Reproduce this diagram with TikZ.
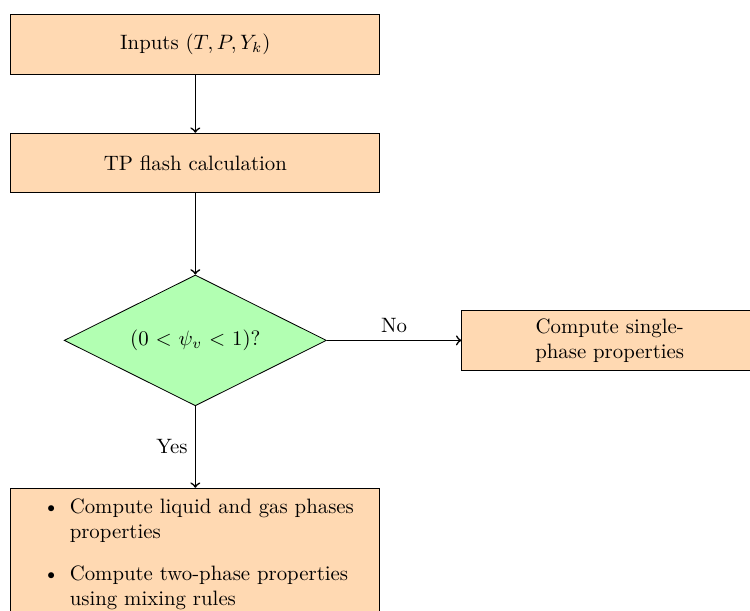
\documentclass[tikz,border=0pt]{standalone}
\usepackage{tikz}
\usepackage{amsmath}
\usepackage{enumitem}
\usetikzlibrary{shapes.geometric}

\begin{document}
\begin{tikzpicture}[
    block/.style={draw, rectangle, fill=orange!30, text width=6cm, minimum height=1cm, align=center},
    decision/.style={draw, diamond, fill=green!30, aspect=2, minimum width=4.43cm, minimum height=2.21cm, inner sep=0pt},
    flow/.style={->, thick}]
            \clip (-3.3,-9.57) rectangle (9.37,0.75);

            % Inputs
            \node[block] (inputs) at (0,0) {Inputs $(T,P,Y_k)$};

            % TP flash
            \node[block] (flash) at (0,-2) {TP flash calculation};

            % Phase check
            \node[decision] (check) at (0,-5) {(0 $<$ $\psi_v$ $<$ 1)?};

            % Single-phase branch
            \node[block, text width=3cm, minimum width=5cm] (single) at (7,-5) {Compute single-phase properties};

            % Two-phase branch
            \node[block, anchor=north, align=left, inner ysep=0pt] (twophase) at (0,-7.49) {%
                \begin{itemize}[topsep=0pt, partopsep=0pt, itemsep=4.5pt]
                    \item Compute liquid and gas phases properties
                    \item Compute two-phase properties using mixing rules
                \end{itemize}
                \vspace*{8pt}\null};

            % Flows
            \draw[flow] (inputs) -- (flash);
            \draw[flow] (flash) -- (check);
            \draw[flow] (check) -- node[above] {No} (single);
            \draw[flow] (check) -- node[left] {Yes} (twophase);
\end{tikzpicture}
\end{document}
